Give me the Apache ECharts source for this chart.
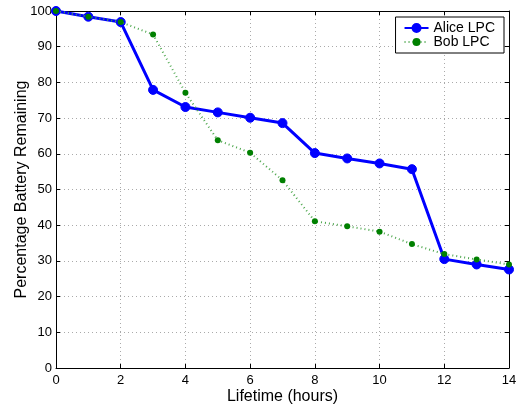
<!DOCTYPE html>
<html>
<head>
<meta charset="utf-8">
<script src="https://cdn.jsdelivr.net/npm/echarts@6/dist/echarts.min.js"></script>
<style>
  html, body { margin: 0; padding: 0; background: #fff; }
  #chart { width: 520px; height: 407px; }
</style>
</head>
<body>
<div id="chart"></div>
<script>
// Battery drain over time for two LPC runs
const hours = [0, 1, 2, 3, 4, 5, 6, 7, 8, 9, 10, 11, 12, 13, 14];
const aliceLPC = [100, 98.4, 96.9, 77.9, 73.1, 71.6, 70.1, 68.6, 60.2, 58.7, 57.3, 55.7, 30.5, 29.0, 27.6];
const bobLPC = [100, 98.4, 96.9, 93.4, 77.1, 63.8, 60.3, 52.6, 41.1, 39.7, 38.2, 34.7, 31.9, 30.4, 29.0];
const xTicks = [0, 2, 4, 6, 8, 10, 12, 14];
const yTicks = [0, 10, 20, 30, 40, 50, 60, 70, 80, 90, 100];

const FONT = 'Liberation Sans';
const pairs = (xs, ys) => xs.map((x, i) => [x, ys[i]]);

const frameLine = { show: true, onZero: false, lineStyle: { color: '#000', width: 1 } };
const innerTick = { show: true, inside: true, length: 4, lineStyle: { color: '#000', width: 1 } };
const dottedGrid = { show: true, lineStyle: { color: '#aaa', type: [1, 3], width: 1 } };

const chart = echarts.init(document.getElementById('chart'), null, { renderer: 'canvas' });
chart.setOption({
  animation: false,
  backgroundColor: '#fff',
  textStyle: { fontFamily: FONT },
  grid: { left: 56, right: 11, top: 11, bottom: 39, containLabel: false, outerBoundsMode: 'none' },
  legend: {
    right: 16, top: 17,
    orient: 'vertical',
    backgroundColor: '#fff',
    borderColor: '#000', borderWidth: 1,
    padding: [4, 9, 4, 8],
    itemGap: 0,
    itemWidth: 24, itemHeight: 10,
    textStyle: { fontFamily: FONT, fontSize: 14, lineHeight: 14, color: '#000' },
    data: ['Alice LPC', 'Bob LPC']
  },
  xAxis: [
    {
      type: 'value', min: xTicks[0], max: xTicks[xTicks.length - 1], interval: 2,
      name: 'Lifetime (hours)', nameLocation: 'middle', nameGap: 21, nameMoveOverlap: false,
      nameTextStyle: { fontFamily: FONT, fontSize: 16, color: '#000' },
      axisLine: frameLine, axisTick: innerTick,
      axisLabel: { color: '#000', fontSize: 13, fontFamily: FONT, margin: 6 },
      splitLine: dottedGrid
    },
    {
      type: 'value', position: 'top', min: xTicks[0], max: xTicks[xTicks.length - 1], interval: 2,
      axisLine: frameLine, axisTick: innerTick, axisLabel: { show: false }, splitLine: { show: false }
    }
  ],
  yAxis: [
    {
      type: 'value', min: yTicks[0], max: yTicks[yTicks.length - 1], interval: 10,
      name: 'Percentage Battery Remaining', nameLocation: 'middle', nameGap: 26, nameMoveOverlap: false,
      nameTextStyle: { fontFamily: FONT, fontSize: 16, color: '#000' },
      axisLine: frameLine, axisTick: innerTick,
      axisLabel: { color: '#000', fontSize: 13, fontFamily: FONT, margin: 4 },
      splitLine: dottedGrid
    },
    {
      type: 'value', position: 'right', min: yTicks[0], max: yTicks[yTicks.length - 1], interval: 10,
      axisLine: frameLine, axisTick: innerTick, axisLabel: { show: false }, splitLine: { show: false }
    }
  ],
  series: [
    {
      name: 'Bob LPC', type: 'line', z: 3,
      data: pairs(hours, bobLPC),
      symbol: 'circle', symbolSize: 6,
      itemStyle: { color: '#008000' },
      lineStyle: { color: '#4ca64c', width: 2, type: [1, 3] }
    },
    {
      name: 'Alice LPC', type: 'line', z: 2,
      data: pairs(hours, aliceLPC),
      symbol: 'circle', symbolSize: 9,
      itemStyle: { color: '#0000ff', borderColor: '#0000ff', borderWidth: 1 },
      lineStyle: { color: '#0000ff', width: 3 }
    }
  ]
});
</script>
</body>
</html>
